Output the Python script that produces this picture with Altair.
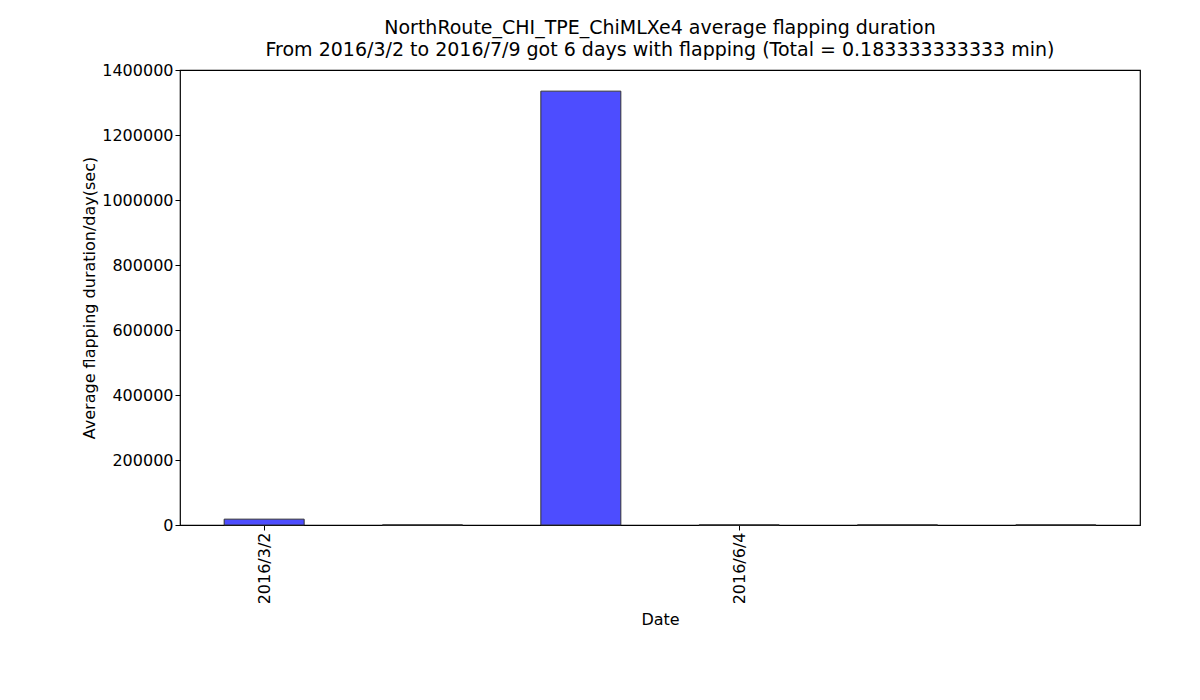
import altair as alt
import pandas as pd

dates = ["2016/3/2", "2016/4/1", "2016/5/5", "2016/6/4", "2016/6/20", "2016/7/9"]
values = [18000, 300, 1335000, 300, 300, 300]
positions = [0.5, 1.5, 2.5, 3.5, 4.5, 5.5]
tick_positions = [0.5, 3.5]
tick_labels = ["2016/3/2", "2016/6/4"]

df = pd.DataFrame({"pos": positions, "date": dates, "value": values})

label_expr = " : ".join(
    f"datum.value == {p} ? '{l}'" for p, l in zip(tick_positions, tick_labels)
) + " : ''"

bars = alt.Chart(df).mark_bar(
    width=80, color="#4d4dff", stroke="#333333", strokeWidth=1
).encode(
    x=alt.X("pos:Q", scale=alt.Scale(domain=[0, 6], nice=False, zero=False),
            axis=alt.Axis(title="Date", values=tick_positions, labelExpr=label_expr,
                          labelAngle=-90, grid=False, domain=False, tickColor="black",
                          labelFontSize=16, titleFontSize=16, titleFontWeight="normal",
                          labelColor="black", titleColor="black", titlePadding=8)),
    y=alt.Y("value:Q", scale=alt.Scale(domain=[0, 1400000], nice=False),
            axis=alt.Axis(title="Average flapping duration/day(sec)", tickCount=8,
                          format="d", grid=False, domain=False, tickColor="black",
                          labelFontSize=16, titleFontSize=16, titleFontWeight="normal",
                          labelColor="black", titleColor="black")),
)

chart = bars.properties(
    width=960, height=455,
    autosize=alt.AutoSizeParams(type="none"),
    padding={"left": 172, "top": 62, "right": 50, "bottom": 160},
    title=alt.TitleParams(
        text=["NorthRoute_CHI_TPE_ChiMLXe4 average flapping duration",
              "From 2016/3/2 to 2016/7/9 got 6 days with flapping (Total = 0.183333333333 min)"],
        fontSize=19, fontWeight="normal", anchor="middle", color="black", offset=2,
        lineHeight=22,
    ),
).configure(font="DejaVu Sans").configure_view(stroke="black", strokeWidth=1.2)

chart.save("out.html", embed_options={"renderer": "svg", "actions": False})
